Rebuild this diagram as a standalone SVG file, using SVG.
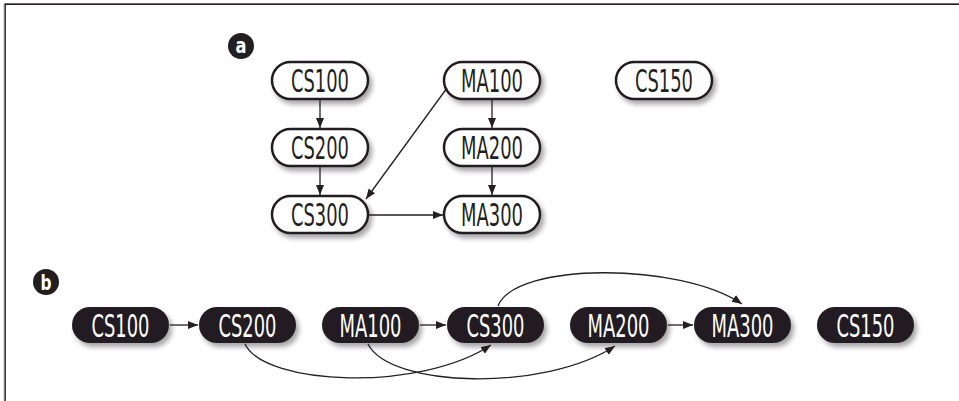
<svg xmlns="http://www.w3.org/2000/svg" width="959" height="401" viewBox="0 0 959 401">
<defs>
<filter id="sh" x="-20%" y="-30%" width="150%" height="180%">
<feDropShadow dx="3" dy="4" stdDeviation="2.5" flood-color="#000" flood-opacity="0.35"/>
</filter>
<marker id="ah" markerUnits="userSpaceOnUse" markerWidth="11" markerHeight="9" refX="10" refY="4" orient="auto">
<path d="M0,0 L10,4 L0,8 z" fill="#231f20"/>
</marker>
</defs>
<style>
.pa{fill:#fff;stroke:#231f20;stroke-width:2.5;filter:url(#sh)}
.pb{fill:#231f20;stroke:none;filter:url(#sh)}
.ta{font-family:"DejaVu Sans Condensed","DejaVu Sans",sans-serif;font-size:32px;fill:#231f20;text-anchor:middle}
.tb{font-family:"DejaVu Sans Condensed","DejaVu Sans",sans-serif;font-size:32px;fill:#fff;text-anchor:middle}
.c{fill:none;stroke:#231f20;stroke-width:1.3;marker-end:url(#ah)}
.lab{fill:#231f20}
.lt{font-family:"DejaVu Sans Condensed","DejaVu Sans",sans-serif;font-size:21px;font-weight:bold;fill:#fff;text-anchor:middle}
</style>
<rect width="959" height="401" fill="#fff"/>
<path d="M4,401 V3.5 H959" fill="none" stroke="#bbb" stroke-width="1"/>
<path d="M5.2,401 V4.2 H959" fill="none" stroke="#231f20" stroke-width="1.4"/>

<g id="label-a"><circle class="lab" cx="241" cy="46" r="13"/><text class="lt" x="241" y="53" textLength="11" lengthAdjust="spacingAndGlyphs">a</text></g>
<g id="label-b"><circle class="lab" cx="46" cy="282" r="13"/><text class="lt" x="46" y="289.5" textLength="11" lengthAdjust="spacingAndGlyphs">b</text></g>

<g id="a-CS100"><rect class="pa" x="272" y="62" width="96" height="37" rx="18.5"/><text class="ta" x="320" y="92" textLength="58" lengthAdjust="spacingAndGlyphs">CS100</text></g>
<g id="a-CS200"><rect class="pa" x="272" y="129" width="96" height="37" rx="18.5"/><text class="ta" x="320" y="159" textLength="58" lengthAdjust="spacingAndGlyphs">CS200</text></g>
<g id="a-CS300"><rect class="pa" x="272" y="196" width="96" height="37" rx="18.5"/><text class="ta" x="320" y="226" textLength="58" lengthAdjust="spacingAndGlyphs">CS300</text></g>
<g id="a-MA100"><rect class="pa" x="444" y="62" width="96" height="37" rx="18.5"/><text class="ta" x="492" y="92" textLength="62" lengthAdjust="spacingAndGlyphs">MA100</text></g>
<g id="a-MA200"><rect class="pa" x="444" y="129" width="96" height="37" rx="18.5"/><text class="ta" x="492" y="159" textLength="62" lengthAdjust="spacingAndGlyphs">MA200</text></g>
<g id="a-MA300"><rect class="pa" x="444" y="196" width="96" height="37" rx="18.5"/><text class="ta" x="492" y="226" textLength="62" lengthAdjust="spacingAndGlyphs">MA300</text></g>
<g id="a-CS150"><rect class="pa" x="616" y="62" width="96" height="37" rx="18.5"/><text class="ta" x="664" y="92" textLength="58" lengthAdjust="spacingAndGlyphs">CS150</text></g>

<g id="b-CS100"><rect class="pb" x="72" y="307" width="97" height="36" rx="18"/><text class="tb" x="120.5" y="337" textLength="58" lengthAdjust="spacingAndGlyphs">CS100</text></g>
<g id="b-CS200"><rect class="pb" x="199" y="307" width="97" height="36" rx="18"/><text class="tb" x="247.5" y="337" textLength="58" lengthAdjust="spacingAndGlyphs">CS200</text></g>
<g id="b-MA100"><rect class="pb" x="322" y="307" width="97" height="36" rx="18"/><text class="tb" x="370.5" y="337" textLength="62" lengthAdjust="spacingAndGlyphs">MA100</text></g>
<g id="b-CS300"><rect class="pb" x="447" y="307" width="97" height="36" rx="18"/><text class="tb" x="495.5" y="337" textLength="58" lengthAdjust="spacingAndGlyphs">CS300</text></g>
<g id="b-MA200"><rect class="pb" x="570" y="307" width="97" height="36" rx="18"/><text class="tb" x="618.5" y="337" textLength="62" lengthAdjust="spacingAndGlyphs">MA200</text></g>
<g id="b-MA300"><rect class="pb" x="694" y="307" width="97" height="36" rx="18"/><text class="tb" x="742.5" y="337" textLength="62" lengthAdjust="spacingAndGlyphs">MA300</text></g>
<g id="b-CS150"><rect class="pb" x="817" y="307" width="97" height="36" rx="18"/><text class="tb" x="865.5" y="337" textLength="58" lengthAdjust="spacingAndGlyphs">CS150</text></g>

<g id="connectors">
<path class="c" d="M320,100 V128"/>
<path class="c" d="M320,167 V195"/>
<path class="c" d="M492,100 V128"/>
<path class="c" d="M492,167 V195"/>
<path class="c" d="M447,88 L366,199"/>
<path class="c" d="M369,215 H443"/>
<path class="c" d="M170,325 H198"/>
<path class="c" d="M420,325 H446"/>
<path class="c" d="M668,325 H693"/>
<path class="c" d="M245,344 C265,386 420,392 491,345"/>
<path class="c" d="M368,344 C390,388 545,392 615,346"/>
<path class="c" d="M498,306 C515,262 680,262 742,304"/>
</g>
</svg>
